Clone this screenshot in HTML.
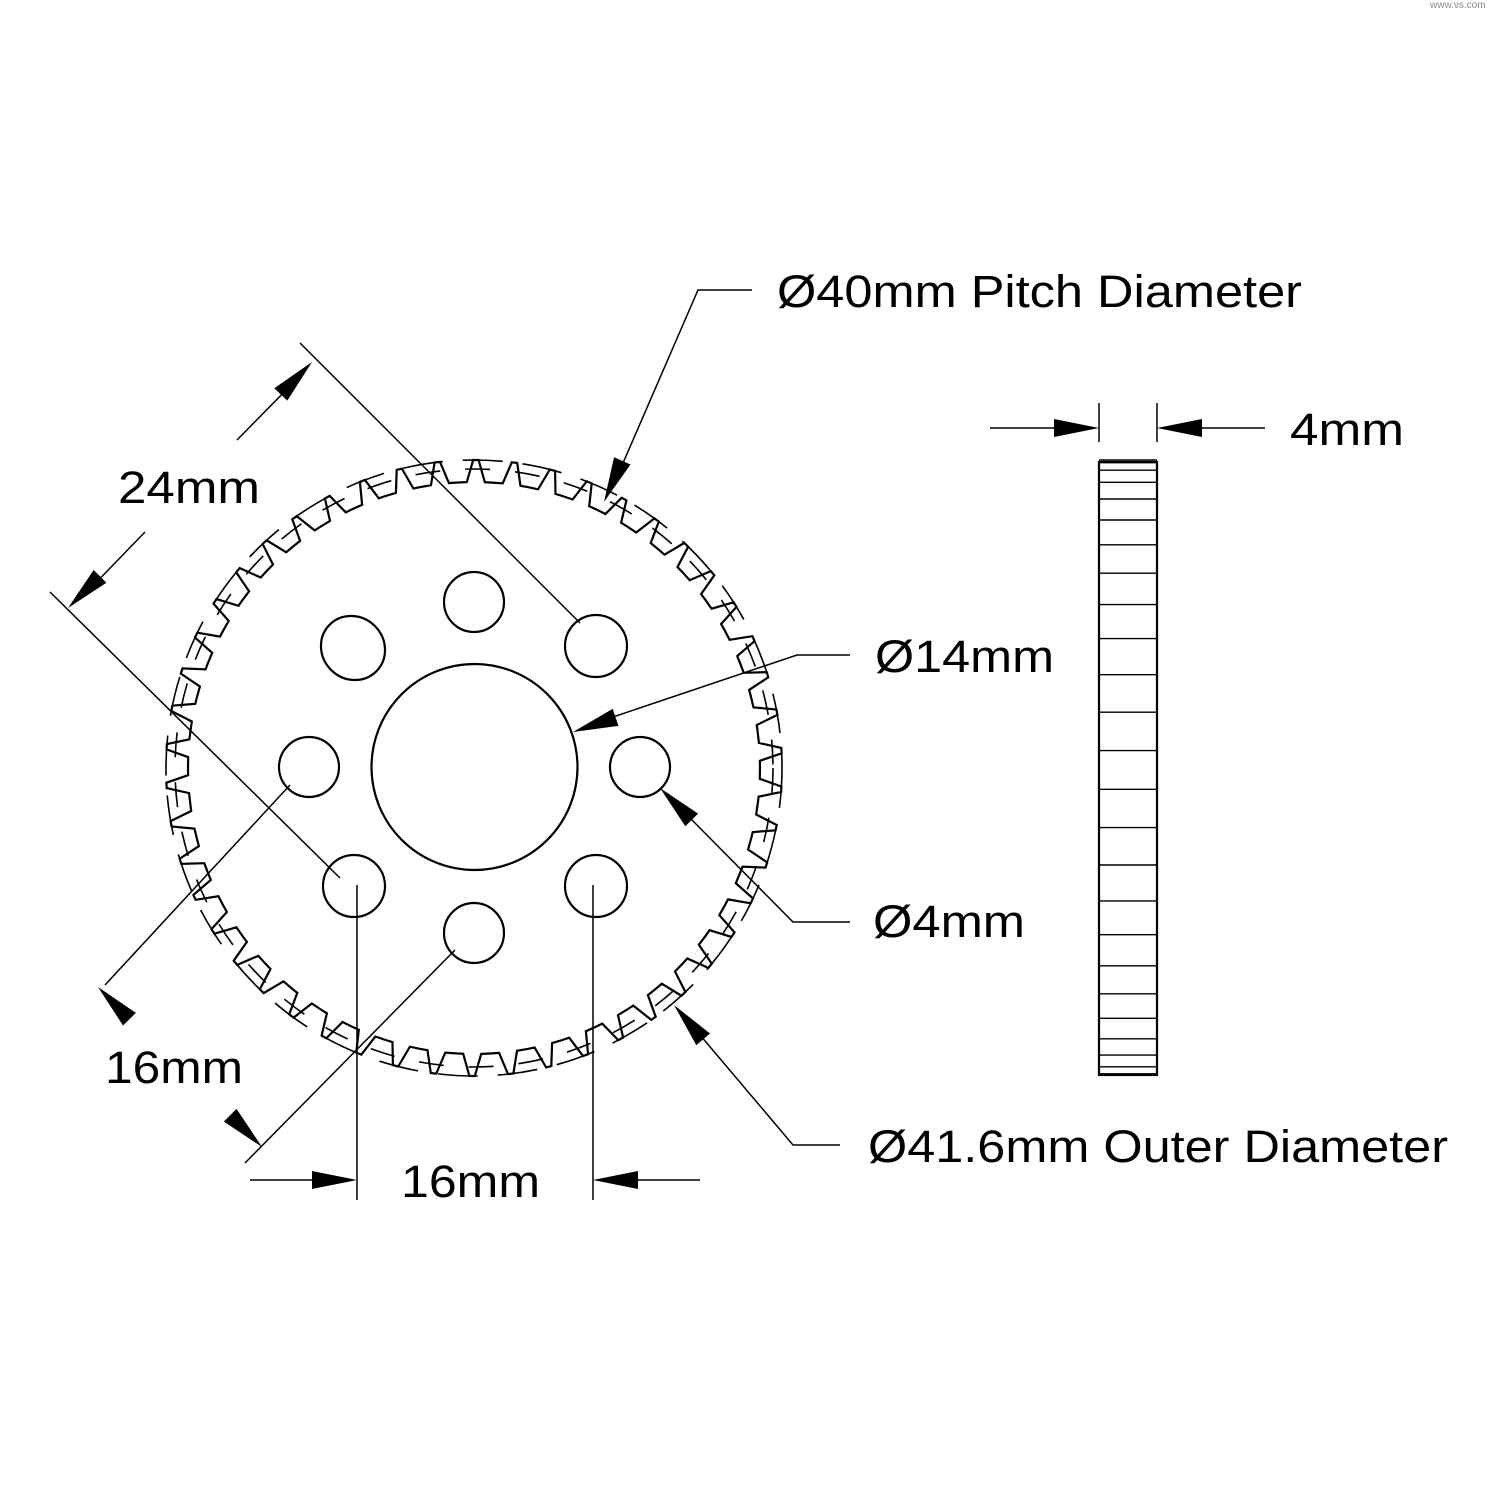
<!DOCTYPE html>
<html><head><meta charset="utf-8"><style>
html,body{margin:0;padding:0;background:#fff}
svg{display:block}
text{font-family:"Liberation Sans",sans-serif;font-size:45px;fill:#000}
</style></head><body>
<svg id="s" width="1500" height="1500" viewBox="0 0 1500 1500" xmlns="http://www.w3.org/2000/svg">
<g fill="none" stroke="#000" stroke-width="2.2">
<path id="gear"/>
<circle cx="474" cy="768" r="308" stroke-width="1.6" stroke-dasharray="40 20"/>
<circle cx="474" cy="768" r="299" stroke-width="1.6" stroke-dasharray="25 25"/>
<circle cx="474.5" cy="767" r="103"/>
<circle cx="474" cy="602" r="30"/>
<ellipse cx="353" cy="648" rx="33" ry="31" transform="rotate(45 353 648)"/>
<circle cx="596" cy="646" r="31"/>
<circle cx="309" cy="767" r="30"/>
<circle cx="640" cy="767" r="30"/>
<circle cx="354" cy="886" r="31"/>
<circle cx="596" cy="886" r="31"/>
<circle cx="474" cy="933" r="30"/>
<rect x="1099" y="462" width="58" height="613"/>
<g id="side" stroke-width="1.4"></g>
</g>
<g stroke="#000" stroke-width="1.5" fill="none">
<line x1="300" y1="343" x2="580" y2="623"/>
<line x1="50" y1="592" x2="340" y2="878"/>
<line x1="237" y1="440" x2="300" y2="376"/>
<line x1="145" y1="532" x2="85" y2="594"/>
<line x1="290" y1="785" x2="105" y2="985"/>
<line x1="455" y1="950" x2="245" y2="1163"/>
<line x1="357" y1="885" x2="357" y2="1200"/>
<line x1="593" y1="885" x2="593" y2="1200"/>
<line x1="250" y1="1180" x2="320" y2="1180"/>
<line x1="700" y1="1180" x2="630" y2="1180"/>
<polyline points="752,290 698,290 620,470"/>
<polyline points="850,655 797,655 610,718"/>
<polyline points="850,922 793,922 690,818"/>
<polyline points="840,1145 793,1145 700,1035"/>
<line x1="1099" y1="403" x2="1099" y2="442"/>
<line x1="1157" y1="403" x2="1157" y2="442"/>
<line x1="990" y1="428" x2="1060" y2="428"/>
<line x1="1265" y1="428" x2="1195" y2="428"/>
</g>
<g fill="#000" id="arrows"></g>
<text x="118" y="503" textLength="142" lengthAdjust="spacingAndGlyphs">24mm</text>
<text x="105" y="1083" textLength="138" lengthAdjust="spacingAndGlyphs">16mm</text>
<text x="401" y="1197" textLength="139" lengthAdjust="spacingAndGlyphs">16mm</text>
<text x="777" y="307" textLength="525" lengthAdjust="spacingAndGlyphs">Ø40mm Pitch Diameter</text>
<text x="875" y="672" textLength="179" lengthAdjust="spacingAndGlyphs">Ø14mm</text>
<text x="873" y="937" textLength="152" lengthAdjust="spacingAndGlyphs">Ø4mm</text>
<text x="868" y="1162" textLength="580" lengthAdjust="spacingAndGlyphs">Ø41.6mm Outer Diameter</text>
<text x="1290" y="445" textLength="114" lengthAdjust="spacingAndGlyphs">4mm</text>
<text x="1430" y="8" style="font-size:10px;fill:#888">www.vs.com</text>
</svg>
<script>
var cx=474,cy=768,N=50,d="";
function P(r,a){return (cx+r*Math.cos(a)).toFixed(1)+","+(cy+r*Math.sin(a)).toFixed(1);}
for(var i=0;i<N;i++){var a=i*2*Math.PI/N,p=2*Math.PI/N;
d+=(i?"L":"M")+P(286,a)+"L"+P(286,a+p*0.3)+"L"+P(308,a+p*0.48)+"L"+P(308,a+p*0.62)+"L"+P(286,a+p*0.8);}
d+="Z";document.getElementById("gear").setAttribute("d",d);
var g=document.getElementById("side"),h="";
for(var i=0;i<N;i++){var a=(i+0.55)*2*Math.PI/N,y=cy+308*Math.sin(a);
if(Math.cos(a)>0){h+='<line x1="1099" x2="1157" y1="'+y.toFixed(1)+'" y2="'+y.toFixed(1)+'"/>';}}
g.innerHTML=h;
function arr(tx,ty,fx,fy){var dx=tx-fx,dy=ty-fy,l=Math.hypot(dx,dy);dx/=l;dy/=l;var L=45,W=9;
var bx=tx-dx*L,by=ty-dy*L;return '<polygon points="'+tx+','+ty+' '+(bx-dy*W)+','+(by+dx*W)+' '+(bx+dy*W)+','+(by-dx*W)+'"/>';}
document.getElementById("arrows").innerHTML=
arr(312,362,237,440)+arr(68,608,145,532)+arr(98,987,140,1030)+arr(262,1147,220,1105)+
arr(357,1180,250,1180)+arr(593,1180,700,1180)+arr(604,502,698,290)+arr(573,732,797,655)+
arr(660,788,793,922)+arr(674,1005,793,1145)+arr(1099,428,990,428)+arr(1157,428,1265,428);
</script>
</body></html>
